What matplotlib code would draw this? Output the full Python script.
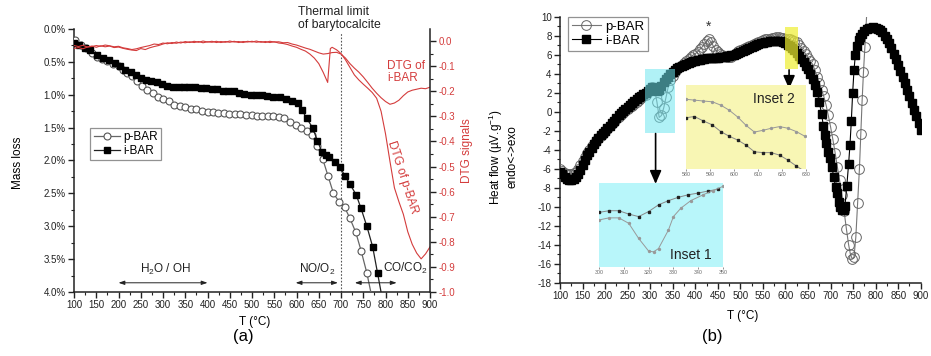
import numpy as np
import matplotlib
matplotlib.use("Agg")
import matplotlib.pyplot as plt
from matplotlib.patches import Rectangle
from matplotlib.ticker import MultipleLocator

plt.rcParams['font.family'] = ['Liberation Sans', 'DejaVu Sans']
plt.rcParams['mathtext.fontset'] = 'custom'
plt.rcParams['mathtext.rm'] = 'Liberation Sans'
plt.rcParams['mathtext.it'] = 'Liberation Sans:italic'
plt.rcParams['axes.unicode_minus'] = False

RED = '#d43c3c'
SPINE = '#222222'

# ---------------- (a) mass loss (TG) ----------------
T_pa = [102, 115, 127, 140, 152, 163, 175, 188, 200, 211, 220, 230, 241, 252, 265,
        277, 289, 301, 313, 325, 338, 350, 362, 374, 387, 400, 412, 424, 436, 449,
        461, 474, 486, 499, 511, 523, 536, 548, 560, 572, 585, 598, 611, 623, 635,
        647, 659, 671, 683, 696, 708, 720, 733, 745, 758, 770]
m_pa = [0.17, 0.25, 0.29, 0.37, 0.42, 0.45, 0.49, 0.54, 0.57, 0.62, 0.67, 0.72, 0.79, 0.87, 0.93,
        0.98, 1.03, 1.06, 1.10, 1.15, 1.17, 1.19, 1.21, 1.22, 1.24, 1.26, 1.27, 1.28, 1.28, 1.29,
        1.30, 1.30, 1.31, 1.31, 1.32, 1.32, 1.32, 1.33, 1.34, 1.36, 1.42, 1.46, 1.50, 1.55, 1.62,
        1.78, 1.98, 2.24, 2.50, 2.63, 2.71, 2.88, 3.09, 3.37, 3.71, 4.10]

T_ia = [100, 112, 125, 137, 151, 166, 179, 192, 203, 215, 227, 239, 250, 262, 274,
        286, 298, 310, 323, 335, 347, 359, 372, 385, 397, 409, 421, 435, 447, 459,
        471, 483, 497, 509, 522, 534, 548, 563, 576, 589, 603, 612, 623, 636, 647,
        657, 666, 674, 686, 698, 709, 720, 734, 745, 758, 771, 782, 794]
m_ia = [0.22, 0.25, 0.29, 0.32, 0.40, 0.44, 0.47, 0.52, 0.56, 0.62, 0.66, 0.70, 0.74, 0.77, 0.79,
        0.81, 0.84, 0.86, 0.88, 0.89, 0.89, 0.89, 0.89, 0.90, 0.90, 0.91, 0.92, 0.94, 0.94, 0.95,
        0.97, 0.99, 1.00, 1.01, 1.01, 1.02, 1.04, 1.04, 1.07, 1.10, 1.13, 1.23, 1.36, 1.50, 1.70,
        1.87, 1.91, 1.94, 2.02, 2.10, 2.24, 2.36, 2.52, 2.73, 3.00, 3.31, 3.71, 4.15]

# DTG signals
T_dtg_i = np.arange(100, 910, 10)
dtg_i = [-0.030, -0.026, -0.031, -0.024, -0.022, -0.018, -0.021, -0.016, -0.019, -0.023,
         -0.021, -0.027, -0.030, -0.034, -0.031, -0.026, -0.022, -0.018, -0.012, -0.014,
         -0.008, -0.011, -0.006, -0.009, -0.004, -0.007, -0.003, -0.006, -0.002, -0.007,
         -0.003, -0.005, -0.001, -0.006, -0.002, -0.005, -0.001, -0.006, -0.002, -0.004,
         -0.001, -0.005, -0.002, -0.006, -0.001, -0.004, -0.003, -0.007, -0.006, -0.012,
         -0.016, -0.022, -0.028, -0.033, -0.040, -0.047, -0.052, -0.050, -0.046, -0.045,
         -0.052, -0.068, -0.090, -0.108, -0.124, -0.143, -0.165, -0.188, -0.208, -0.226,
         -0.241, -0.252, -0.247, -0.236, -0.218, -0.203, -0.196, -0.192, -0.188, -0.190,
         -0.184]

T_dtg_p = np.r_[np.arange(100, 671, 10), 676, np.arange(680, 901, 10)]
dtg_p = [-0.018, -0.022, -0.017, -0.024, -0.020, -0.025, -0.019, -0.023, -0.020, -0.026,
         -0.024, -0.029, -0.033, -0.036, -0.038, -0.030, -0.034, -0.027, -0.022, -0.018,
         -0.012, -0.007, -0.010, -0.004, -0.008, -0.002, -0.006, -0.001, -0.005, 0.000,
         -0.004, -0.001, -0.006, -0.002, -0.005, 0.000, -0.004, -0.002, -0.006, -0.001,
         -0.004, 0.000, -0.005, -0.002, -0.006, -0.003, -0.008, -0.010, -0.014, -0.020,
         -0.025, -0.033, -0.040, -0.052, -0.068, -0.090, -0.125, -0.165,
         -0.030,
         -0.025, -0.035, -0.050, -0.075, -0.105, -0.135, -0.155, -0.172, -0.188, -0.205,
         -0.228, -0.280, -0.370, -0.480, -0.585, -0.640, -0.690, -0.760, -0.810, -0.845,
         -0.868, -0.848, -0.820]

mass_ticks = [0.0, 0.5, 1.0, 1.5, 2.0, 2.5, 3.0, 3.5, 4.0]
dtg_ticks = [0.0, -0.1, -0.2, -0.3, -0.4, -0.5, -0.6, -0.7, -0.8, -0.9, -1.0]
temp_ticks = list(range(100, 901, 50))

# ---------------- (b) heat flow (DTA) ----------------
T_pb = np.r_[np.arange(100, 741, 5), [744, 748, 752, 756, 760, 764, 767, 770, 773, 776, 781]]
hf_pb = [-6.0, -6.25, -6.45, -6.55, -6.6, -6.6, -6.5, -6.3, -6.0, -5.6,
         -5.2, -4.8, -4.4, -4.0, -3.65, -3.35, -3.05, -2.8, -2.55, -2.3,
         -2.05, -1.8, -1.55, -1.3, -1.05, -0.8, -0.55, -0.3, -0.1, 0.1,
         0.3, 0.45, 0.6, 0.8, 1.0, 1.2, 1.4, 1.6, 1.8, 2.1,
         2.4, 2.6, 2.3, 1.0, -0.6, -0.4, 0.4, 1.5, 2.6, 3.3,
         3.8, 4.2, 4.5, 4.75, 4.95, 5.15, 5.35, 5.55, 5.75, 5.95,
         6.1, 6.3, 6.55, 6.8, 7.1, 7.45, 7.6, 7.35, 6.9, 6.5,
         6.25, 6.05, 5.95, 5.85, 5.8, 5.75, 5.8, 5.95, 6.15, 6.35,
         6.5, 6.65, 6.75, 6.85, 6.95, 7.05, 7.15, 7.25, 7.35, 7.45,
         7.55, 7.6, 7.65, 7.7, 7.75, 7.8, 7.85, 7.85, 7.8, 7.75,
         7.7, 7.65, 7.6, 7.5, 7.45, 7.3, 7.05, 6.75, 6.4, 6.05,
         5.7, 5.3, 5.0, 4.4, 3.7, 3.0, 2.3, 1.6, 0.7, -0.4,
         -1.6, -2.9, -4.3, -5.8, -7.2, -8.8, -10.5, -12.3, -14.0,
         -15.0, -15.5, -15.3, -13.2, -9.6, -6.0, -2.4, 1.2, 4.2, 6.8, 11.0]

T_ib = np.r_[np.arange(100, 681, 5),
             [684, 687, 690, 695, 699, 703, 707, 711, 714, 718, 721, 725, 729, 732, 736,
              740, 743, 746, 749, 752, 755, 758, 762, 766, 770, 775, 780, 785],
             np.arange(790, 901, 5)]
hf_ib = [-6.3, -6.6, -6.9, -7.05, -7.15, -7.2, -7.1, -6.9, -6.6, -6.15,
         -5.6, -5.1, -4.6, -4.2, -3.8, -3.45, -3.1, -2.8, -2.5, -2.25,
         -2.0, -1.75, -1.5, -1.2, -0.95, -0.65, -0.4, -0.15, 0.1, 0.3,
         0.5, 0.7, 0.9, 1.1, 1.3, 1.5, 1.7, 1.85, 2.0, 2.2,
         2.4, 2.6, 2.5, 2.2, 2.3, 2.7, 3.1, 3.4, 3.7, 3.95,
         4.2, 4.4, 4.6, 4.75, 4.85, 4.95, 5.05, 5.15, 5.2, 5.3,
         5.35, 5.4, 5.45, 5.5, 5.55, 5.6, 5.6, 5.65, 5.65, 5.7,
         5.7, 5.75, 5.8, 5.8, 5.85, 5.9, 5.95, 6.0, 6.1, 6.2,
         6.3, 6.4, 6.5, 6.6, 6.7, 6.8, 6.9, 7.0, 7.1, 7.2,
         7.25, 7.3, 7.35, 7.4, 7.45, 7.45, 7.45, 7.4, 7.4, 7.3,
         7.2, 7.05, 6.9, 6.7, 6.5, 6.2, 5.9, 5.55, 5.2, 4.85,
         4.5, 4.0, 3.4, 2.8, 2.1, 1.0, -0.2,
         -1.5, -2.5, -3.3, -4.2, -4.9, -5.8, -6.9, -7.9, -8.6, -9.5, -10.0, -10.3, -10.3, -9.9, -7.8,
         -5.5, -3.5, -1.0, 2.0, 4.4, 6.0, 6.9, 7.5, 7.9, 8.2, 8.5, 8.7, 8.8,
         8.85, 8.9, 8.85, 8.75, 8.6, 8.35, 8.0, 7.65, 7.2, 6.7,
         6.1, 5.5, 4.9, 4.3, 3.7, 3.0, 2.3, 1.6, 0.9, 0.2,
         -0.5, -1.2, -1.9]

hf_ticks = list(range(-18, 11, 2))

# insets (no y scale in the original, relative units 0-10)
T_in1_i = [300, 304, 308, 312, 316, 320, 324, 328, 332, 336, 340, 344, 348]
v_in1_i = [6.5, 6.7, 6.7, 6.3, 6.0, 6.6, 7.4, 7.9, 8.3, 8.6, 8.8, 9.05, 9.25]
T_in1_p = [300, 304, 308, 312, 316, 320, 322, 324, 328, 330, 333, 337, 342, 346, 350]
v_in1_p = [5.6, 5.85, 5.85, 5.2, 3.4, 1.9, 1.8, 2.2, 4.4, 6.0, 7.0, 7.9, 8.6, 9.1, 9.6]

T_in2 = [580, 583.5, 587, 591, 594.5, 598, 601.5, 605, 608.5, 612, 615.5, 619, 622.5, 626, 629.5]
v_in2_p = [8.3, 8.2, 8.1, 8.0, 7.6, 7.0, 6.2, 5.2, 4.4, 4.6, 4.85, 5.05, 4.85, 4.45, 3.9]
v_in2_i = [6.1, 6.25, 5.75, 5.25, 4.45, 3.9, 3.45, 2.85, 2.05, 1.95, 1.95, 1.65, 1.05, 0.35, -0.3]


def style_axis(a):
    for s in a.spines.values():
        s.set_color(SPINE)
        s.set_linewidth(1.1)
    a.tick_params(which='major', direction='out', length=4, width=1, labelsize=7, pad=2, colors=SPINE)
    a.tick_params(which='minor', direction='out', length=2, width=0.8, colors=SPINE)


fig = plt.figure(figsize=(9.31, 3.56), dpi=100)

# ======== panel (a) ========
ax = fig.add_axes([0.0795, 0.1798, 0.3824, 0.7388])
ax.plot(T_pa, m_pa, '-o', color='#666666', lw=0.9, ms=5, mfc='white', mec='#555555', mew=0.8,
        label='p-BAR', zorder=3)
ax.plot(T_ia, m_ia, '-s', color='#222222', lw=0.9, ms=4.3, mfc='black', mec='black',
        label='i-BAR', zorder=3)
ax.set_xlim(100, 900)
ax.set_ylim(4.0, 0.0)
ax.set_xticks(temp_ticks)
ax.set_yticks(mass_ticks)
ax.set_yticklabels([f"{v:.1f}%" for v in mass_ticks])
ax.xaxis.set_minor_locator(MultipleLocator(25))
ax.yaxis.set_minor_locator(MultipleLocator(0.25))
style_axis(ax)
ax.spines['top'].set_visible(False)
ax.spines['right'].set_visible(False)
ax.set_xlabel('T (°C)', fontsize=8.5)
ax.xaxis.set_label_coords(0.508, -0.09)
ax.set_ylabel('Mass loss', fontsize=8.5)
ax.yaxis.set_label_coords(-0.14, 0.49)

ax.axvline(700, ymin=0, ymax=0.985, color='#555555', lw=0.8, ls=(0, (1.5, 1.5)))

arrow_kw = dict(arrowstyle='<|-|>,head_length=0.35,head_width=0.12', color='#222222', lw=0.7,
                shrinkA=0, shrinkB=0)
ax.annotate('', xy=(200, 3.86), xytext=(400, 3.86), arrowprops=arrow_kw)
ax.annotate('', xy=(598, 3.86), xytext=(693, 3.86), arrowprops=arrow_kw)
ax.annotate('', xy=(731, 3.86), xytext=(825, 3.86), arrowprops=arrow_kw)
ax.text(305, 3.66, 'H$_2$O / OH', ha='center', va='center', fontsize=8.5, color='#222222')
ax.text(646, 3.66, 'NO/O$_2$', ha='center', va='center', fontsize=8.5, color='#222222')
ax.text(794, 3.64, 'CO/CO$_2$', ha='left', va='center', fontsize=8.5, color='#222222')

leg = ax.legend(loc='upper left', bbox_to_anchor=(0.045, 0.625), fontsize=8.5, frameon=True,
                fancybox=False, edgecolor='#777777', handlelength=2.2, borderpad=0.3,
                labelspacing=0.15, handletextpad=0.3, borderaxespad=0)
leg.get_frame().set_linewidth(0.9)

ax2 = ax.twinx()
ax2.plot(T_dtg_i, dtg_i, color=RED, lw=0.8)
ax2.plot(T_dtg_p, dtg_p, color=RED, lw=0.8)
ax2.set_ylim(-1.0, 0.048)
ax2.set_yticks(dtg_ticks)
ax2.set_yticklabels([f"{v:.1f}" for v in dtg_ticks])
ax2.yaxis.set_minor_locator(MultipleLocator(0.05))
style_axis(ax2)
ax2.tick_params(axis='y', labelcolor=RED)
for side in ('top', 'left', 'bottom'):
    ax2.spines[side].set_visible(False)
ax2.set_ylabel('DTG signals', fontsize=8.5, color=RED)
ax2.yaxis.set_label_coords(1.087, 0.536)

ax2.text(803, -0.125, 'DTG of\ni-BAR', ha='left', va='center', fontsize=8.5, color=RED,
         linespacing=1.0)
ax2.text(838, -0.544, 'DTG of p-BAR', ha='center', va='center', fontsize=8.5, color=RED,
         rotation=-72, rotation_mode='anchor')

fig.text(298 / 931, 1 - 6 / 356, 'Thermal limit\nof barytocalcite', ha='left', va='top',
         fontsize=8.8, color='#222222', linespacing=1.1)
fig.text(243 / 931, 1 - 337 / 356, '(a)', ha='center', va='center', fontsize=12)

# ======== panel (b) ========
bx = fig.add_axes([0.6015, 0.2059, 0.3875, 0.7472])
bx.plot(T_pb, hf_pb, '-o', color='#777777', lw=0.8, ms=7, mfc='none', mec='#666666', mew=0.7,
        label='p-BAR', zorder=3)
bx.plot(T_ib, hf_ib, '-s', color='black', lw=0.8, ms=5.6, mfc='black', mec='black',
        label='i-BAR', zorder=3)
bx.set_xlim(100, 900)
bx.set_ylim(-18, 10)
bx.set_xticks(temp_ticks)
bx.set_yticks(hf_ticks)
bx.xaxis.set_minor_locator(MultipleLocator(25))
bx.yaxis.set_minor_locator(MultipleLocator(1))
style_axis(bx)
bx.spines['top'].set_visible(False)
bx.spines['right'].set_visible(False)
bx.set_xlabel('T (°C)', fontsize=8.5)
bx.xaxis.set_label_coords(0.507, -0.103)
bx.set_ylabel('Heat flow (µV.g$^{-1}$)\nendo<->exo', fontsize=8.5, linespacing=1.2)
bx.yaxis.set_label_coords(-0.115, 0.473)

bx.text(429, 8.9, '*', ha='center', va='center', fontsize=10, color='#333333')

bx.add_patch(Rectangle((288, -2.2), 66, 6.7, facecolor='#6fe6f0', alpha=0.55,
                       edgecolor='none', zorder=5))
bx.add_patch(Rectangle((600, 4.5), 28, 4.4, facecolor='#eeee30', alpha=0.7,
                       edgecolor='none', zorder=5))

big_arrow = dict(arrowstyle='-|>,head_length=0.8,head_width=0.35', color='black', lw=1.2,
                 shrinkA=0, shrinkB=0)
bx.annotate('', xy=(312, -7.6), xytext=(312, -2.3), arrowprops=big_arrow, zorder=6)
bx.annotate('', xy=(608, 2.4), xytext=(608, 4.4), arrowprops=big_arrow, zorder=6)

leg2 = bx.legend(loc='upper left', bbox_to_anchor=(0.022, 1.0), fontsize=9.5, frameon=True,
                 fancybox=False, edgecolor='#777777', handlelength=2.2, borderpad=0.3,
                 labelspacing=0.15, handletextpad=0.3, borderaxespad=0)
leg2.get_frame().set_linewidth(0.9)

fig.text(712 / 931, 1 - 337 / 356, '(b)', ha='center', va='center', fontsize=12)

# inset 1
ia = fig.add_axes([599 / 931, 1 - 267 / 356, 124 / 931, 84 / 356])
ia.set_facecolor('#b8f6fa')
ia.plot(T_in1_i, v_in1_i, '-s', color='#888888', lw=0.7, ms=1.6, mfc='#222222', mec='#222222')
ia.plot(T_in1_p, v_in1_p, '-o', color='#999999', lw=0.7, ms=1.4, mfc='#999999', mec='#999999')
ia.set_xlim(300, 350)
ia.set_ylim(0, 10)
ia.set_xticks([300, 310, 320, 330, 340, 350])
ia.set_yticks([])
for s in ia.spines.values():
    s.set_visible(False)
ia.tick_params(axis='x', length=1.5, width=0.5, labelsize=3.8, pad=1, colors='#666666')
ia.text(0.91, 0.14, 'Inset 1', transform=ia.transAxes, ha='right', va='center', fontsize=10,
        color='#222222')

# inset 2
ib = fig.add_axes([686 / 931, 1 - 169 / 356, 120 / 931, 84 / 356])
ib.set_facecolor('#f8f6b4')
ib.plot(T_in2, v_in2_p, '-o', color='#999999', lw=0.7, ms=1.4, mfc='#999999', mec='#999999')
ib.plot(T_in2, v_in2_i, '-s', color='#888888', lw=0.7, ms=1.6, mfc='#222222', mec='#222222')
ib.set_xlim(580, 630)
ib.set_ylim(0, 10)
ib.set_xticks([580, 590, 600, 610, 620, 630])
ib.set_yticks([])
for s in ib.spines.values():
    s.set_visible(False)
ib.tick_params(axis='x', length=1.5, width=0.5, labelsize=3.8, pad=1, colors='#666666')
ib.text(0.91, 0.83, 'Inset 2', transform=ib.transAxes, ha='right', va='center', fontsize=10,
        color='#222222')

fig.savefig('out.png', dpi=100)
